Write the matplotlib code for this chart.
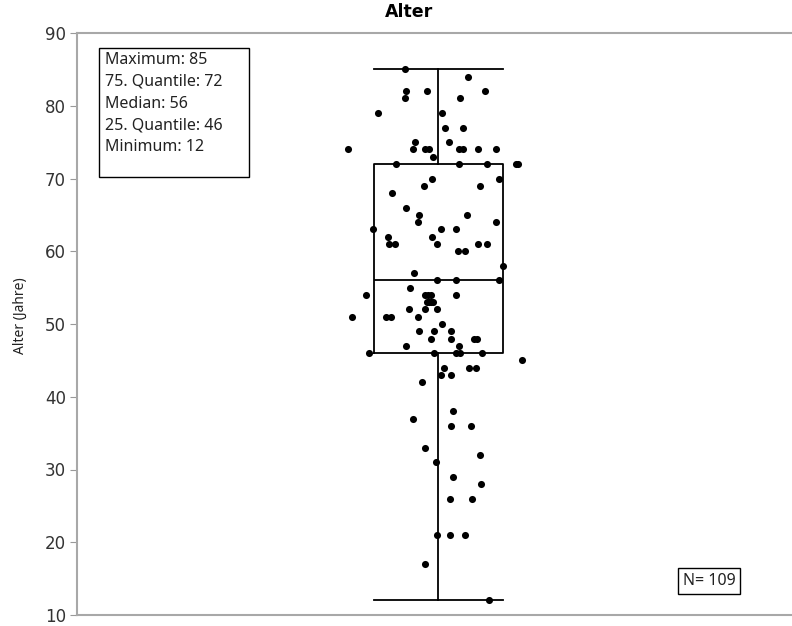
import matplotlib.pyplot as plt
from matplotlib.patches import Rectangle

# box statistics (as printed in the chart)
stat_names = ["Maximum", "75. Quantile", "Median", "25. Quantile", "Minimum"]
stat_values = [85, 72, 56, 46, 12]
n_total = 109

# individual ages and their horizontal jitter (box centre = 0, box width = 1)
ages = [85, 84, 82, 82, 82, 81, 81, 79, 79, 77, 77, 75, 75,
        74, 74, 74, 74, 74, 74, 74, 74, 73,
        72, 72, 72, 72, 72, 70, 70, 69, 69, 68, 66, 65, 65, 64, 64,
        63, 63, 63, 62, 62, 61, 61, 61, 61, 61, 60, 60, 58, 57,
        56, 56, 56, 55, 54, 54, 54, 54, 54, 53, 53, 53, 53,
        52, 52, 52, 51, 51, 51, 51, 50, 49, 49, 49, 48, 48, 48, 48,
        47, 47, 46, 46, 46, 46, 46, 45, 44, 44, 44, 43, 43, 42,
        38, 37, 36, 36, 33, 32, 31, 29, 28, 26, 26, 21, 21, 21, 17, 12]
jitter = [-0.26, 0.23, -0.25, -0.09, 0.36, -0.26, 0.17, -0.47, 0.03, 0.05, 0.19, -0.18, 0.08,
          -0.70, -0.20, -0.10, -0.07, 0.16, 0.19, 0.31, 0.45, -0.04,
          -0.33, 0.16, 0.38, 0.60, 0.62, -0.05, 0.47, -0.11, 0.32, -0.36, -0.25, -0.15, 0.22, -0.16, 0.45,
          -0.51, 0.02, 0.14, -0.39, -0.05, -0.38, -0.34, -0.01, 0.31, 0.38, 0.15, 0.21, 0.50, -0.19,
          -0.01, 0.14, 0.47, -0.22, -0.56, -0.10, -0.06, 0.14, -0.08, -0.09, -0.06, -0.07, -0.04,
          -0.23, -0.10, -0.01, -0.67, -0.41, -0.37, -0.16, 0.03, -0.15, -0.03, 0.10, -0.06, 0.10, 0.28, 0.30,
          -0.25, 0.16, -0.54, -0.03, 0.14, 0.17, 0.34, 0.65, 0.04, 0.24, 0.29, 0.02, 0.10, -0.13,
          0.11, -0.20, 0.10, 0.25, -0.10, 0.32, -0.02, 0.11, 0.33, 0.09, 0.26, -0.01, 0.09, 0.21, -0.10, 0.39]

fig = plt.figure(figsize=(7.92, 6.26), dpi=100)
ax = fig.add_axes([77 / 792, 1 - 615 / 626, 1 - 77 / 792, (615 - 33) / 626])

stats = [{
    "whishi": stat_values[0], "q3": stat_values[1], "med": stat_values[2],
    "q1": stat_values[3], "whislo": stat_values[4], "fliers": [],
}]
line = dict(color="black", linewidth=1.3)
ax.bxp(stats, positions=[0], widths=[1.0], showfliers=False,
       boxprops=line, medianprops=line, whiskerprops=line, capprops=line,
       capwidths=[1.0])

ax.scatter(jitter, ages, s=26, color="black", zorder=3, linewidths=0)

ax.set_xlim(-2.81, 2.75)
ax.set_ylim(10, 90)
ax.set_yticks(range(10, 91, 10))
ax.set_xticks([])
ax.tick_params(axis="y", length=5, color="#999999", labelsize=12, labelcolor="#333333", pad=3)
for side in ["top", "left", "bottom"]:
    ax.spines[side].set_color("#a8a8a8")
    ax.spines[side].set_linewidth(1.5)
ax.spines["right"].set_visible(False)

fig.text(20 / 792, 1 - 316 / 626, "Alter (Jahre)", rotation=90, ha="center", va="center",
         fontsize=10, family="Noto Sans", color="#222222")

fig.text(409 / 792, 1 - 12 / 626, "Alter", ha="center", va="center",
         fontsize=12.5, fontweight="bold")

# statistics box (top left)
fig.patches.append(Rectangle((99 / 792, 1 - 177 / 626), 150 / 792, 129 / 626,
                             transform=fig.transFigure, fill=False,
                             edgecolor="black", linewidth=1.0))
for i, (name, val) in enumerate(zip(stat_names, stat_values)):
    fig.text(105 / 792, 1 - (60 + i * 21.8) / 626, f"{name}: {val}",
             ha="left", va="center", fontsize=11.5, family="Noto Sans", color="#222222")

# N box (bottom right)
ax.text(0.884, 0.058, f"N= {n_total}", transform=ax.transAxes, ha="center", va="center",
        fontsize=11.5, family="Noto Sans", color="#222222",
        bbox=dict(boxstyle="square,pad=0.3", facecolor="white", edgecolor="black", linewidth=1.0))

fig.savefig("out.png", dpi=100)
